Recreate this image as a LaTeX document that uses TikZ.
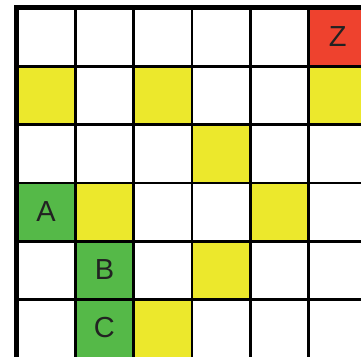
\documentclass[tikz,border=0pt]{standalone}
\usepackage{fontspec}
\setmainfont{Liberation Sans}
\definecolor{cy}{RGB}{236,232,44}
\definecolor{cg}{RGB}{85,185,72}
\definecolor{cr}{RGB}{238,66,46}
\definecolor{ct}{RGB}{34,34,34}
\begin{document}
\begin{tikzpicture}[x=1pt,y=-1pt,
  lbl/.style={text=ct,font=\fontsize{29}{30}\selectfont,inner sep=0pt},
  gridline/.style={draw=black,line width=2.6pt}]
\useasboundingbox (0,0) rectangle (361,356);
\clip (0,0) rectangle (361,356);
\fill[white] (0,0) rectangle (361,356);
\def\s{58.3}
\def\xo{17}
\def\yo{8}
% cells: col,row,color
\foreach \c/\r/\col in {5/0/cr, 0/1/cy, 2/1/cy, 5/1/cy, 3/2/cy, 0/3/cg, 1/3/cy, 4/3/cy, 1/4/cg, 3/4/cy, 1/5/cg, 2/5/cy}{
  \fill[\col] ({\xo+\c*\s},{\yo+\r*\s}) rectangle ++(\s,\s);
}
% grid lines
\foreach \i in {1,...,6}{
  \draw[gridline] ({\xo+\i*\s},\yo) -- ({\xo+\i*\s},{\yo+6*\s});
  \draw[gridline] (\xo,{\yo+\i*\s}) -- ({\xo+6*\s},{\yo+\i*\s});
}
\draw[black,line width=4.5pt] (\xo-0.5,{\yo+6*\s}) -- (\xo-0.5,\yo-0.5) -- ({\xo+6*\s},\yo-0.5);
% labels
\node[lbl] (z) at ({\xo+5.5*\s},{\yo+0.5*\s-1}) {Z};
\node[lbl] (a) at ({\xo+0.5*\s},{\yo+3.5*\s-1}) {A};
\node[lbl] (b) at ({\xo+1.5*\s},{\yo+4.5*\s-1}) {B};
\node[lbl] (c) at ({\xo+1.5*\s},{\yo+5.5*\s-1}) {C};
\end{tikzpicture}
\end{document}
